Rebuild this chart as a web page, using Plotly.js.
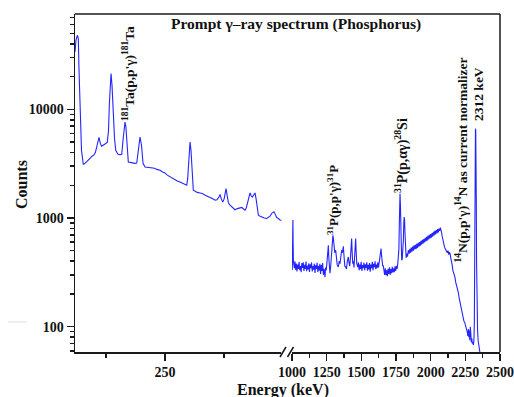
<!DOCTYPE html>
<html>
<head>
<meta charset="utf-8">
<script src="https://cdn.plot.ly/plotly-3.0.1.min.js"></script>
<style>html,body{margin:0;padding:0;background:#fff;}#chart{width:514px;height:397px;}</style>
</head>
<body>
<div id="chart"></div>
<script>
// Low-energy segment (keV, counts)
const lowEnergy = [60, 62, 64.9, 67, 68.5, 70.6, 73.7, 77.5, 80, 83.2, 87, 91.7, 96, 100.1, 103, 105.4, 108, 110.7, 113.5, 116, 118.5, 121.3, 125, 128.2, 130.8, 132.5, 134, 136.1, 138.2, 140, 141.3, 143.5, 146, 150.8, 155, 158.7, 161.4, 163.5, 165.6, 167.5, 169.5, 170.9, 172.6, 177, 182.5, 186, 190.4, 192.5, 194.2, 197.3, 200.5, 202, 203.7, 207.9, 212, 217, 222.7, 228, 233, 239.6, 245, 250, 255, 260.7, 266, 271, 276, 281.8, 288, 293, 296, 298, 299.4, 301, 303, 305, 307, 309.9, 314, 318, 324.1, 329, 335, 341.6, 347, 351, 355.8, 360, 364, 366.4, 369, 372.1, 375, 377, 379, 381.5, 384, 387.5, 392, 398, 403, 408, 412.2, 416, 419.2, 422, 425, 427.5, 429.7, 432, 434.6, 437, 440.3, 442.5, 445, 447.3, 451, 455.1, 460, 465, 468, 472, 476, 478, 480.4, 483, 486, 489.5, 493, 497, 500];
const lowCounts = [33700, 43100, 48000, 45000, 22900, 9800, 4200, 3120, 3150, 3250, 3350, 3540, 3700, 3800, 4000, 4380, 5000, 5520, 4860, 4570, 4650, 4770, 4850, 4970, 6410, 11000, 16600, 21300, 16600, 11000, 7930, 5400, 4200, 3860, 3830, 3860, 5190, 6800, 7640, 6900, 4600, 3770, 3270, 3250, 3220, 3180, 3210, 3800, 4670, 5560, 4670, 3700, 3190, 2950, 2930, 2890, 2860, 2870, 2800, 2750, 2650, 2600, 2480, 2390, 2330, 2260, 2190, 2140, 2080, 2030, 2000, 2300, 3050, 4300, 5000, 4200, 2600, 1800, 1760, 1720, 1700, 1680, 1620, 1580, 1530, 1500, 1460, 1470, 1560, 1650, 1500, 1400, 1500, 1750, 1860, 1600, 1380, 1310, 1250, 1190, 1220, 1240, 1250, 1210, 1180, 1250, 1420, 1620, 1700, 1600, 1560, 1620, 1700, 1500, 1200, 1060, 1040, 1015, 1000, 990, 1010, 1040, 1110, 1130, 1140, 1080, 1010, 990, 960, 950, 945];

// High-energy segment (keV, counts)
const highEnergy = [1001, 1003, 1005, 1006.5, 1008, 1010, 1013, 1017, 1021, 1026, 1031, 1036, 1041, 1046, 1051, 1056, 1061, 1066, 1071, 1076, 1081, 1086, 1091, 1096, 1101, 1106, 1111, 1116, 1121, 1126, 1131, 1136, 1141, 1146, 1151, 1156, 1161, 1166, 1171, 1176, 1181, 1186, 1191, 1196, 1201, 1206, 1211, 1216, 1221, 1226, 1231, 1234,
  1238, 1242, 1247, 1252, 1257, 1262, 1266, 1270, 1274, 1279, 1284, 1290, 1295, 1299, 1303, 1308, 1315, 1320, 1326, 1334, 1340, 1346, 1352, 1358, 1364, 1370, 1376, 1381, 1387, 1393, 1399, 1406, 1411, 1416, 1421, 1426, 1430, 1434, 1438, 1442, 1447, 1452, 1456, 1459, 1463, 1467, 1474,
  1479, 1484, 1489, 1494, 1499, 1504, 1509, 1514, 1519, 1524, 1529, 1534, 1539, 1544, 1549, 1554, 1559, 1564, 1569, 1574, 1579, 1584, 1589, 1594, 1599, 1604, 1609, 1614, 1619, 1624, 1629, 1634, 1638, 1642, 1646, 1650, 1654,
  1658, 1663, 1668, 1673, 1678, 1683, 1688, 1693, 1698, 1703, 1708, 1713, 1718, 1723, 1728, 1733, 1738, 1743, 1748, 1753, 1758, 1763, 1767,
  1771, 1774, 1777, 1779, 1782, 1785, 1788, 1791, 1795, 1799, 1803, 1806, 1809, 1812, 1815, 1819, 1823, 1828, 1833, 1839,
  1845, 1850, 1855, 1860, 1865, 1870, 1875, 1880, 1885, 1890, 1895, 1900, 1905, 1910, 1915, 1920, 1925, 1930, 1935, 1940, 1945, 1950, 1955, 1960, 1965, 1970, 1975, 1980, 1985, 1990, 1995, 2000, 2005, 2010, 2015, 2020, 2025, 2030, 2035, 2040, 2045, 2050, 2055, 2060, 2065, 2070, 2074,
  2078, 2082, 2086, 2090, 2095, 2100, 2105, 2110, 2115, 2120, 2125, 2130, 2135, 2140, 2145, 2150, 2155, 2160, 2165, 2170, 2175, 2180, 2185, 2190, 2195, 2200, 2205, 2210, 2215, 2220, 2225, 2230, 2235, 2240, 2245, 2250, 2255, 2260, 2265, 2268, 2272, 2275, 2279, 2282, 2286, 2290, 2293, 2297, 2300, 2304, 2308, 2312,
  2315, 2317, 2319, 2321, 2323, 2325, 2327, 2329, 2331, 2334, 2338, 2342, 2346, 2350, 2356, 2362];
const highCounts = [330, 380, 700, 960, 600, 400, 360, 345, 400, 335, 380, 322, 372, 340, 395, 330, 362, 318, 385, 348, 392, 326, 370, 340, 398, 324, 364, 336, 382, 318, 375, 345, 390, 322, 360, 334, 380, 312, 368, 340, 388, 318, 362, 330, 378, 305, 370, 325, 385, 300, 340, 310,
  286, 350, 330, 390, 480, 561, 420, 330, 310, 360, 420, 560, 693, 640, 560, 480, 505, 400, 370, 354, 400, 380, 470, 505, 480, 549, 430, 360, 354, 340, 400, 438, 390, 360, 420, 560, 646, 480, 380, 400, 350, 430, 600, 646, 480, 380, 354,
  390, 330, 372, 340, 395, 325, 368, 345, 388, 330, 375, 348, 392, 328, 370, 336, 385, 320, 372, 346, 395, 330, 378, 352, 400, 338, 372, 345, 390, 350, 400, 440, 490, 523, 450, 390, 360,
  367, 320, 300, 345, 298, 330, 292, 340, 305, 352, 300, 338, 310, 355, 315, 345, 318, 360, 325, 362, 340, 380, 420,
  520, 900, 1500, 1675, 1300, 700, 440, 408, 420, 480, 620, 880, 1020, 950, 720, 520, 430, 470, 440, 505,
  470, 520, 480, 535, 490, 545, 500, 560, 515, 565, 520, 580, 530, 590, 545, 600, 555, 615, 570, 630, 580, 640, 595, 655, 610, 670, 620, 685, 635, 700, 650, 712, 660, 725, 675, 745, 690, 760, 705, 775, 720, 790, 735, 800, 760, 816, 790,
  740, 690, 640, 600, 565, 540, 520, 505, 500, 480, 500, 460, 485, 470, 430, 410, 370, 330, 315, 292, 286, 258, 245, 222, 216, 205, 185, 172, 162, 145, 140, 128, 124, 112, 110, 105, 98, 96, 88, 82, 95, 80, 92, 75, 100, 85, 72, 78, 70, 72, 68, 75,
  110, 600, 4000, 6300, 6640, 6400, 4500, 1500, 400, 160, 95, 75, 66, 61, 57, 55];

const yMajorTicks = [100, 1000, 10000];
const yMajorText = ['100', '1000', '10000'];
const yMinorTicks = [60, 70, 80, 90, 200, 300, 400, 500, 600, 700, 800, 900, 2000, 3000, 4000, 5000, 6000, 7000, 8000, 9000, 20000, 30000, 40000, 50000, 60000, 70000];
const lowMajorTicks = [250];
const lowMinorTicks = [125, 375];

const serif = 'Liberation Serif, Times New Roman, serif';
const axisColor = '#1a1a1a';
const lineBlue = '#2424ff';

const traces = [
  {x: lowEnergy, y: lowCounts, xaxis: 'x', yaxis: 'y', type: 'scatter', mode: 'lines',
   line: {color: lineBlue, width: 1.1}, hoverinfo: 'skip', showlegend: false},
  {x: highEnergy, y: highCounts, xaxis: 'x2', yaxis: 'y', type: 'scatter', mode: 'lines',
   line: {color: lineBlue, width: 1.1}, hoverinfo: 'skip', showlegend: false}
];

const tickFont = {family: serif, size: 14, color: '#111', weight: 'bold'};

const W = 425, H = 338, L = 75, B = 352;
const px = v => (v - L) / W;
const py = v => (B - v) / H;

function label(text, x, y, size, angle) {
  return {text: text, xref: 'paper', yref: 'paper', x: px(x), y: py(y),
    xanchor: 'center', yanchor: 'middle', textangle: angle || 0, showarrow: false,
    font: {family: serif, size: size, color: '#111', weight: 'bold'}};
}

const layout = {
  width: 514, height: 397,
  margin: {l: 75, r: 14, t: 14, b: 45, pad: 0},
  paper_bgcolor: '#ffffff', plot_bgcolor: '#ffffff',
  showlegend: false,
  xaxis: {
    domain: [0, 0.4857], range: [60, 496], anchor: 'y',
    tickmode: 'array', tickvals: lowMajorTicks, ticktext: ['250'],
    ticks: 'outside', ticklen: 7, tickwidth: 1.5, tickcolor: axisColor,
    minor: {tickmode: 'array', tickvals: lowMinorTicks, ticks: 'outside', ticklen: 4, tickwidth: 1.5, tickcolor: axisColor, showgrid: false},
    showline: true, linecolor: axisColor, linewidth: 1.5,
    showgrid: false, zeroline: false, tickfont: tickFont, fixedrange: true
  },
  xaxis2: {
    domain: [0.5106, 1], range: [1000, 2500], anchor: 'y',
    tickmode: 'linear', tick0: 0, dtick: 250,
    ticks: 'outside', ticklen: 7, tickwidth: 1.5, tickcolor: axisColor,
    minor: {tickmode: 'linear', tick0: 0, dtick: 125, ticks: 'outside', ticklen: 4, tickwidth: 1.5, tickcolor: axisColor, showgrid: false},
    showline: true, linecolor: axisColor, linewidth: 1.5,
    showgrid: false, zeroline: false, tickfont: tickFont, fixedrange: true
  },
  yaxis: {
    type: 'log', range: [1.767, 4.877], anchor: 'x',
    tickmode: 'array', tickvals: yMajorTicks, ticktext: yMajorText,
    ticks: 'outside', ticklen: 7, tickwidth: 1.5, tickcolor: axisColor,
    minor: {tickmode: 'array', tickvals: yMinorTicks, ticks: 'outside', ticklen: 4, tickwidth: 1.5, tickcolor: axisColor, showgrid: false},
    showline: true, linecolor: axisColor, linewidth: 1.5,
    showgrid: false, zeroline: false, tickfont: tickFont, fixedrange: true
  },
  shapes: [
    {type: 'line', xref: 'paper', yref: 'paper', x0: 0, x1: 1, y0: 1, y1: 1, line: {color: axisColor, width: 1.5}},
    {type: 'line', xref: 'paper', yref: 'paper', x0: 1, x1: 1, y0: 0, y1: 1, line: {color: axisColor, width: 1.5}},
    {type: 'line', xref: 'paper', yref: 'paper', x0: px(280), x1: px(286), y0: py(357), y1: py(347), line: {color: axisColor, width: 1.5}},
    {type: 'line', xref: 'paper', yref: 'paper', x0: px(287.5), x1: px(293.5), y0: py(357), y1: py(347), line: {color: axisColor, width: 1.5}},
    {type: 'line', xref: 'paper', yref: 'paper', x0: px(8), x1: px(27), y0: py(322), y1: py(322), line: {color: '#e6d8e6', width: 1}}
  ],
  annotations: [
    label('Prompt γ–ray spectrum (Phosphorus)', 296, 24, 15.5, 0),
    label('<sup>181</sup>Ta(p,p\'γ)<sup>181</sup>Ta', 128, 74, 13.5, -90),
    label('<sup>31</sup>P(p,p\'γ)<sup>31</sup>P', 333, 200, 13, -90),
    label('<sup>31</sup>P(p,αγ)<sup>28</sup>Si', 401, 156, 14, -90),
    label('<sup>14</sup>N(p,p\'γ)<sup>14</sup>N as current normalizer', 462, 160.5, 13.5, -90),
    label('2312 keV', 478, 94, 13.5, -90),
    label('Energy (keV)', 283, 390, 16, 0),
    label('Counts', 21, 185, 16, -90)
  ]
};

Plotly.newPlot('chart', traces, layout, {staticPlot: true, displayModeBar: false});
</script>
</body>
</html>
